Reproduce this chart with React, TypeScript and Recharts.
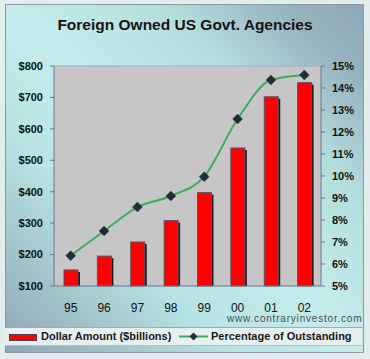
import React from 'react';
import { ComposedChart, Bar, Line, XAxis, YAxis, CartesianGrid, ReferenceLine } from 'recharts';

const years = ['95', '96', '97', '98', '99', '00', '01', '02'];
const dollars = [151, 195, 240, 308, 397, 539, 702, 747];
const pct = [6.38, 7.5, 8.59, 9.09, 9.97, 12.59, 14.36, 14.59];
const dollarTicks = [100, 200, 300, 400, 500, 600, 700, 800];
const pctTicks = [5, 6, 7, 8, 9, 10, 11, 12, 13, 14, 15];

const data = years.map((year, i) => ({ year, dollars: dollars[i], pct: pct[i] }));

const FONT = '"Liberation Sans", Arial, sans-serif';
const AXIS = '#6a7890';

function ShadowBar(props: any) {
  const { x, y, width, height } = props;
  if (!height) return null;
  return (
    <g>
      <rect x={x + 2} y={y + 2} width={width} height={height - 2} fill="#1c1c1c" />
      <rect x={x} y={y} width={width} height={height} fill="#ff0000" stroke="#56506a" strokeWidth={1} />
    </g>
  );
}

function Diamond(props: any) {
  const { cx, cy } = props;
  if (cx == null || cy == null) return null;
  const r = 5;
  return (
    <polygon
      points={`${cx},${cy - r} ${cx + r},${cy} ${cx},${cy + r} ${cx - r},${cy}`}
      fill="#1f2d3a"
      stroke="#3a4858"
      strokeWidth={0.5}
    />
  );
}

export default function App() {
  return (
    <div style={{ position: 'absolute', left: 0, top: 0, width: 370, height: 359, background: '#e2eeee', fontFamily: FONT }}>
      {/* panel background */}
      <div
        style={{
          position: 'absolute',
          left: 5,
          top: 4,
          width: 357,
          height: 347,
          border: '1px solid #8a9aa8',
          background:
            'linear-gradient(to bottom left, #90a8b8 0%, #98b4c0 12%, #b4dede 28%, #c4ecec 50%, #b8e4e4 68%, #a0c0c8 86%, #8ea6b6 100%)',
        }}
      />
      <div
        style={{
          position: 'absolute',
          left: 0,
          top: 17,
          width: 370,
          textAlign: 'center',
          fontSize: 15.5,
          lineHeight: '16px',
          fontWeight: 'bold',
          color: '#1a1212',
        }}
      >
        Foreign Owned US Govt. Agencies
      </div>

      <div style={{ position: 'absolute', left: 0, top: 0 }}>
        <ComposedChart width={370} height={359} data={data} margin={{ top: 66, right: 0, bottom: 43, left: 0 }}>
          <CartesianGrid yAxisId="left" fill="#c6c6c6" fillOpacity={1} horizontal={false} vertical={false} />
          <XAxis
            dataKey="year"
            height={30}
            tickLine={false}
            tickMargin={11}
            axisLine={{ stroke: AXIS }}
            tick={{ fontSize: 12, fill: '#111', fontFamily: FONT }}
          />
          <YAxis
            yAxisId="left"
            width={54}
            domain={[100, 800]}
            ticks={dollarTicks}
            tickFormatter={(v) => `$${v}`}
            tickSize={4}
            tickMargin={7}
            tickLine={{ stroke: AXIS }}
            axisLine={{ stroke: AXIS }}
            tick={{ fontSize: 11, fontWeight: 'bold', fill: '#111', fontFamily: FONT }}
          />
          <YAxis
            yAxisId="right"
            orientation="right"
            width={49}
            domain={[5, 15]}
            ticks={pctTicks}
            tickFormatter={(v) => `${v}%`}
            tickSize={4}
            tickMargin={7}
            tickLine={{ stroke: AXIS }}
            axisLine={{ stroke: AXIS }}
            tick={{ fontSize: 11, fontWeight: 'bold', fill: '#111', fontFamily: FONT }}
          />
          <ReferenceLine yAxisId="left" y={800} stroke="#9fb0c0" />
          <Bar yAxisId="left" dataKey="dollars" barSize={14} shape={<ShadowBar />} isAnimationActive={false} />
          <Line
            yAxisId="right"
            type="monotone"
            dataKey="pct"
            stroke="#3cae5a"
            strokeWidth={2}
            dot={<Diamond />}
            activeDot={false}
            isAnimationActive={false}
          />
        </ComposedChart>
      </div>

      <div
        style={{
          position: 'absolute',
          left: 227,
          top: 314,
          fontSize: 10,
          lineHeight: '10px',
          letterSpacing: 0.8,
          color: '#4a4e58',
        }}
      >
        www.contraryinvestor.com
      </div>

      {/* legend */}
      <div
        style={{
          position: 'absolute',
          left: 5,
          top: 327,
          width: 357,
          height: 17,
          background: '#e6f0f0',
          borderTop: '1px solid #9aacb8',
          borderBottom: '1px solid #b0c0c8',
        }}
      >
        <div style={{ position: 'absolute', left: 4, top: 6, width: 26, height: 5, background: '#ff0000', border: '1px solid #4a4050' }} />
        <div style={{ position: 'absolute', left: 36, top: 2, fontSize: 11, lineHeight: '12px', fontWeight: 'bold', color: '#1a1a1a', whiteSpace: 'nowrap' }}>
          Dollar Amount ($billions)
        </div>
        <svg style={{ position: 'absolute', left: 174, top: 2 }} width={30} height={13}>
          <line x1={0} y1={6.5} x2={29} y2={6.5} stroke="#3cae5a" strokeWidth={2} />
          <polygon points="14.5,2.5 18.5,6.5 14.5,10.5 10.5,6.5" fill="#1f2d3a" />
        </svg>
        <div style={{ position: 'absolute', left: 206, top: 2, fontSize: 11, lineHeight: '12px', fontWeight: 'bold', color: '#1a1a1a', whiteSpace: 'nowrap' }}>
          Percentage of Outstanding
        </div>
      </div>
    </div>
  );
}
